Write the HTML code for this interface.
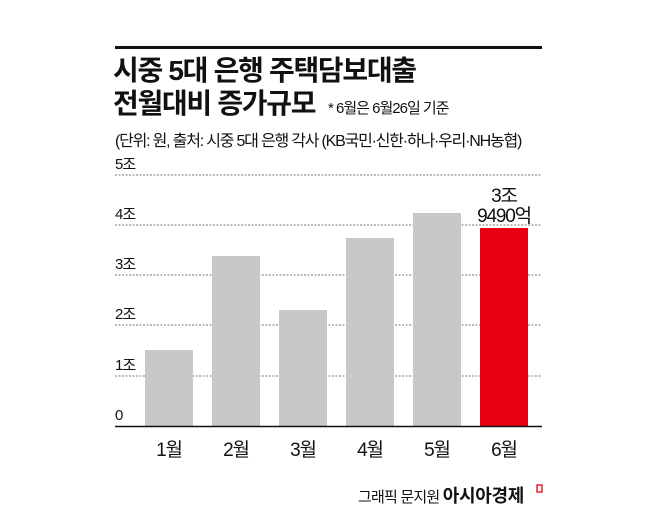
<!DOCTYPE html>
<html><head><meta charset="utf-8"><style>
body{margin:0;background:#fff;width:658px;height:526px;overflow:hidden;font-family:"Liberation Sans","Noto Sans CJK KR",sans-serif;}
.a{position:absolute;white-space:nowrap;color:#111}
</style></head><body>
<div style="position:relative;width:658px;height:526px">
<div class="a" style="left:115px;top:46px;width:427px;height:3px;background:#111"></div>
<div class="a" style="left:113px;top:54px;font-size:28px;font-weight:bold;letter-spacing:-1.3px;line-height:34px">시중 5대 은행 주택담보대출</div>
<div class="a" style="left:113px;top:87px;font-size:28px;font-weight:bold;letter-spacing:-1.3px;line-height:34px">전월대비 증가규모</div>
<div class="a" style="left:328px;top:97px;font-size:15px;letter-spacing:-1px">* 6월은 6월26일 기준</div>
<div class="a" style="left:115px;top:127px;font-size:16px;letter-spacing:-1.2px">(단위: 원, 출처: 시중 5대 은행 각사 (KB국민·신한·하나·우리·NH농협)</div>
<svg class="a" style="left:0;top:0" width="658" height="526">
<g stroke="#777" stroke-width="1" stroke-dasharray="2,1.5">
<line x1="115" x2="542" y1="175" y2="175"/><line x1="115" x2="542" y1="225" y2="225"/>
<line x1="115" x2="542" y1="275" y2="275"/><line x1="115" x2="542" y1="325" y2="325"/>
<line x1="115" x2="542" y1="376" y2="376"/></g>
<g fill="#c8c8c8">
<rect x="145" y="350" width="48" height="76"/><rect x="212" y="256" width="48" height="170"/>
<rect x="279" y="310" width="48" height="116"/><rect x="346" y="238" width="48" height="188"/>
<rect x="413" y="213" width="48" height="213"/></g>
<rect x="480" y="228" width="48" height="198" fill="#e60012"/>
<line x1="115" x2="542" y1="426.5" y2="426.5" stroke="#111" stroke-width="1.5"/>
<g font-size="15" fill="#111" letter-spacing="-1" font-family="Liberation Sans,Noto Sans CJK KR,sans-serif">
<text x="115" y="169">5조</text><text x="115" y="219">4조</text><text x="115" y="269">3조</text>
<text x="115" y="319">2조</text><text x="115" y="370">1조</text><text x="115" y="420">0</text>
</g>
<g font-size="19" fill="#111" letter-spacing="-1.2" text-anchor="middle" font-family="Liberation Sans,Noto Sans CJK KR,sans-serif">
<text x="169" y="456">1월</text><text x="236" y="456">2월</text><text x="303" y="456">3월</text>
<text x="370" y="456">4월</text><text x="437" y="456">5월</text><text x="504" y="456">6월</text>
<text x="504" y="202">3조</text><text x="504" y="222">9490억</text>
</g>
<rect x="537" y="485" width="5" height="7" fill="none" stroke="#e60012" stroke-width="1.3"/>
</svg>
<div class="a" style="left:358px;top:482px;font-size:15px;letter-spacing:-0.8px">그래픽 문지원 <b style="font-size:18px;letter-spacing:-0.3px">아시아경제</b></div>
</div>
</body></html>
